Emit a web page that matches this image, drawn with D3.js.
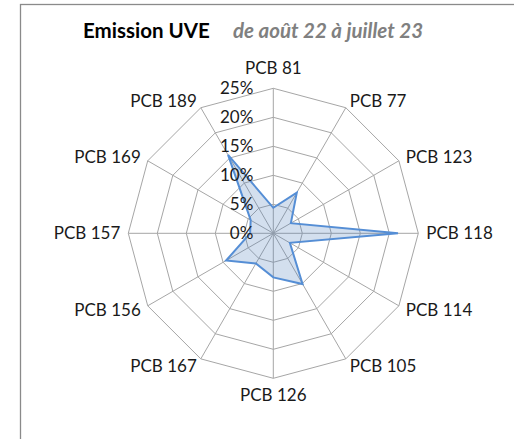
<!DOCTYPE html>
<html><head><meta charset="utf-8">
<script src="https://cdn.jsdelivr.net/npm/d3@7"></script>
<style>body{margin:0;background:#fff}svg{display:block}</style>
</head><body>
<svg id="chart" width="514" height="439"></svg>
<script>
const categories = ["PCB 81","PCB 77","PCB 123","PCB 118","PCB 114","PCB 105","PCB 126","PCB 167","PCB 156","PCB 157","PCB 169","PCB 189"];
const values = [4.4, 8.1, 3.5, 21.5, 3.3, 10.1, 7.6, 6.0, 9.4, 4.0, 4.5, 15.6];
const ticks = [0, 5, 10, 15, 20, 25];
const tickLabels = ["0%","5%","10%","15%","20%","25%"];
const titleMain = "Emission UVE";
const titleSub = "de août 22 à juillet 23";

const svg = d3.select("#chart");
const font = "Lato, 'Open Sans', sans-serif";
const cx = 273.3, cy = 233.3, R = 145;
const r = d3.scaleLinear().domain([0, 25]).range([0, R]);
const ang = d3.scalePoint().domain(categories).range([0, 2*Math.PI*(categories.length-1)/categories.length]);
const pt = (c, v) => [cx + r(v)*Math.sin(ang(c)), cy - r(v)*Math.cos(ang(c))];

// frame
svg.append("rect").attr("x",20.5).attr("y",4.5).attr("width",520).attr("height",460)
  .attr("fill","none").attr("stroke","#8a8a8a").attr("stroke-width",1.3);

// title
const t = svg.append("text").attr("y",38).attr("font-family",font);
t.append("tspan").attr("x",83).attr("font-weight","bold").attr("font-size",20.5).attr("fill","#000").text(titleMain);
t.append("tspan").attr("x",233).attr("font-style","italic").attr("font-weight","bold").attr("font-size",20.5).attr("fill","#808080").text(titleSub);

// grid rings
const g = svg.append("g");
ticks.filter(d=>d>0).forEach(tv=>{
  g.append("path").attr("d", d3.line()(categories.map(c=>pt(c,tv)))+"Z")
   .attr("fill","none").attr("stroke","#a6a6a6").attr("stroke-width",1);
});
// spokes
categories.forEach(c=>{
  const [x,y] = pt(c,25);
  g.append("line").attr("x1",cx).attr("y1",cy).attr("x2",x).attr("y2",y)
   .attr("stroke","#a6a6a6").attr("stroke-width",1);
});

// data
svg.append("path").attr("d", d3.line()(categories.map((c,i)=>pt(c,values[i])))+"Z")
  .attr("fill","#4f81bd").attr("fill-opacity",0.25)
  .attr("stroke","#558ed5").attr("stroke-width",2).attr("stroke-linejoin","miter");

// tick labels
ticks.forEach((tv,i)=>{
  svg.append("text").attr("x",cx-20).attr("y",cy-r(tv)).attr("dy","0.35em")
    .attr("text-anchor","end").attr("font-family",font).attr("font-size",17).attr("fill","#1a1a1a")
    .text(tickLabels[i]);
});

// category labels
categories.forEach(c=>{
  const a = ang(c), s = Math.sin(a), co = Math.cos(a);
  let x = cx + (R+8)*s, y = cy - (R+8)*co;
  let anchor = Math.abs(s) < 0.01 ? "middle" : (s > 0 ? "start" : "end");
  if (Math.abs(s) < 0.01) y = co > 0 ? cy - R - 20 : cy + R + 17;
  svg.append("text").attr("x",x).attr("y",y).attr("dy","0.35em")
    .attr("text-anchor",anchor).attr("font-family",font).attr("font-size",17).attr("fill","#1a1a1a")
    .text(c);
});
</script>
</body></html>
